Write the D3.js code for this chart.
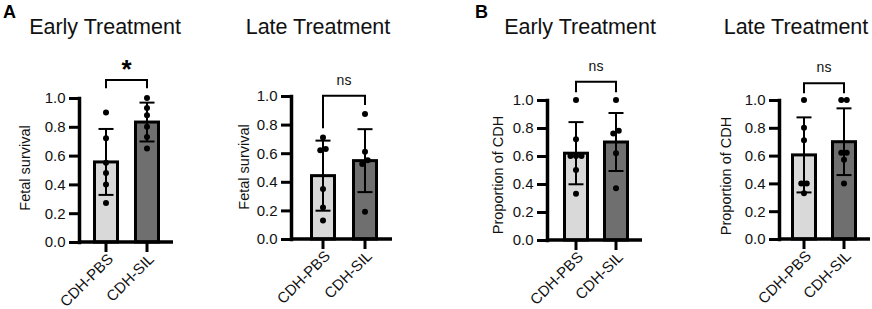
<!DOCTYPE html>
<html>
<head>
<meta charset="utf-8">
<script src="https://cdn.jsdelivr.net/npm/d3@7"></script>
<style>
  html, body { margin: 0; padding: 0; background: #fff; }
  svg { display: block; font-family: Arial, "Liberation Sans", Helvetica, sans-serif; }
</style>
</head>
<body>
<svg id="chart" width="872" height="309"></svg>
<script>
// ---------- DATA ----------
const categories = ["CDH-PBS", "CDH-SIL"];
const panelTitles = ["Early Treatment", "Late Treatment", "Early Treatment", "Late Treatment"];
const panelLetters = ["A", "", "B", ""];
const yLabels = ["Fetal survival", "Fetal survival", "Proportion of CDH", "Proportion of CDH"];
const yTicks = [0, 0.2, 0.4, 0.6, 0.8, 1.0];

// bar heights (mean) per panel: [CDH-PBS, CDH-SIL]
const means = [
  [0.556, 0.833],
  [0.443, 0.548],
  [0.620, 0.700],
  [0.605, 0.700]
];
// standard deviations
const sds = [
  [0.229, 0.135],
  [0.245, 0.220],
  [0.222, 0.207],
  [0.270, 0.240]
];
// individual points
const pointsPBS = [
  [0.90, 0.72, 0.55, 0.48, 0.40, 0.27],
  [0.71, 0.63, 0.62, 0.35, 0.22, 0.13],
  [1.00, 0.72, 0.60, 0.60, 0.60, 0.50, 0.33],
  [1.00, 0.80, 0.71, 0.40, 0.40, 0.33]
];
const pointsSIL = [
  [1.00, 0.93, 0.88, 0.80, 0.73, 0.65],
  [0.875, 0.61, 0.55, 0.525, 0.19],
  [1.00, 0.78, 0.76, 0.62, 0.37],
  [1.00, 1.00, 0.62, 0.62, 0.57, 0.40]
];
// significance annotations
const sigLabels = ["*", "ns", "ns", "ns"];
const bracketLevel = [1.125, 1.002, 1.13, 1.12];
const bracketLeftEnd = [1.067, 0.774, 1.055, 1.048];
const bracketRightEnd = [1.067, 0.937, 1.055, 1.048];

// ---------- LAYOUT (pixels) ----------
const layout = [
  {axisX: 79,  right: 173, y0: 242, y1: 98,  c1: 106, c2: 147, titleX: 105, labelX: 25,  labelY: 168, letterX: 3},
  {axisX: 291, right: 392, y0: 239, y1: 96,  c1: 323, c2: 365, titleX: 318, labelX: 244, labelY: 167},
  {axisX: 547, right: 642, y0: 240, y1: 100, c1: 576, c2: 616, titleX: 580, labelX: 498, labelY: 175, letterX: 475},
  {axisX: 779, right: 870, y0: 239, y1: 100, c1: 804, c2: 844, titleX: 796, labelX: 726, labelY: 176}
];
const fills = ["#d9d9d9", "#6f6f6f"];
const barW = 23, capW = 15, dotR = 3;
const FONT = "Arial, 'Liberation Sans', Helvetica, sans-serif";

const svg = d3.select("#chart");

layout.forEach((L, p) => {
  const g = svg.append("g");
  const y = d3.scaleLinear().domain([0, 1]).range([L.y0, L.y1]);
  const x = d3.scalePoint().domain(categories).range([L.c1, L.c2]);

  // letter
  if (panelLetters[p]) {
    g.append("text").attr("x", L.letterX).attr("y", 17.5)
      .attr("font-size", 18).attr("font-weight", "bold").text(panelLetters[p]);
  }
  // title
  g.append("text").attr("x", L.titleX).attr("y", 33.5).attr("text-anchor", "middle")
    .attr("font-size", 21.5).attr("fill", "#111").text(panelTitles[p]);

  // y label
  g.append("text").attr("transform", `translate(${L.labelX + 5},${L.labelY}) rotate(-90)`)
    .attr("text-anchor", "middle").attr("font-size", 14.5).attr("fill", "#111").text(yLabels[p]);

  // bars
  const vals = means[p];
  g.selectAll("rect.bar").data(categories).enter().append("rect")
    .attr("x", d => x(d) - barW / 2)
    .attr("y", (d, i) => y(vals[i]))
    .attr("width", barW)
    .attr("height", (d, i) => y(0) - y(vals[i]))
    .attr("fill", (d, i) => fills[i])
    .attr("stroke", "#000").attr("stroke-width", 3);

  // error bars
  categories.forEach((c, i) => {
    const m = vals[i], s = sds[p][i], cx = x(c);
    g.append("line").attr("x1", cx).attr("x2", cx).attr("y1", y(m + s)).attr("y2", y(m - s))
      .attr("stroke", "#000").attr("stroke-width", 2);
    [m + s, m - s].forEach(v => {
      g.append("line").attr("x1", cx - capW / 2).attr("x2", cx + capW / 2)
        .attr("y1", y(v)).attr("y2", y(v)).attr("stroke", "#000").attr("stroke-width", 2);
    });
  });

  // points with simple beeswarm spread of overlapping values
  [pointsPBS[p], pointsSIL[p]].forEach((pts, i) => {
    const cx = x(categories[i]);
    const sorted = pts.slice().sort((a, b) => a - b);
    const clusters = [];
    sorted.forEach(v => {
      const last = clusters[clusters.length - 1];
      if (last && Math.abs(y(last[last.length - 1]) - y(v)) < 2 * dotR) last.push(v);
      else clusters.push([v]);
    });
    const step = 5.5;
    clusters.forEach(cl => {
      cl.forEach((v, k) => {
        g.append("circle").attr("cx", cx + (k - (cl.length - 1) / 2) * step)
          .attr("cy", y(v)).attr("r", dotR).attr("fill", "#000");
      });
    });
  });

  // y axis
  const yAxis = d3.axisLeft(y).tickValues(yTicks).tickFormat(d3.format(".1f"))
    .tickSize(10).tickSizeOuter(0).tickPadding(3.5);
  const ya = g.append("g").attr("transform", `translate(${L.axisX},0)`).call(yAxis)
    .attr("font-size", 15).attr("font-family", FONT);
  ya.select(".domain").attr("stroke-width", 3.5).attr("stroke-linecap", "square");
  ya.selectAll(".tick line").attr("stroke-width", 3);
  ya.selectAll(".tick text").attr("fill", "#111");

  // x axis
  const xs = d3.scaleLinear().domain([0, 1]).range([L.axisX, L.right]);
  g.append("line").attr("x1", xs(0)).attr("x2", xs(1)).attr("y1", L.y0).attr("y2", L.y0)
    .attr("stroke", "#000").attr("stroke-width", 3.5);
  categories.forEach(c => {
    g.append("line").attr("x1", x(c)).attr("x2", x(c)).attr("y1", L.y0).attr("y2", L.y0 + 10)
      .attr("stroke", "#000").attr("stroke-width", 3);
    g.append("text").attr("transform", `translate(${x(c) + 8},${L.y0 + 18}) rotate(-45)`)
      .attr("text-anchor", "end").attr("font-size", 15).attr("fill", "#111").text(c);
  });

  // significance bracket
  const xa = x(categories[0]), xb = x(categories[1]);
  const yl = y(bracketLevel[p]);
  g.append("path")
    .attr("d", `M${xa},${y(bracketLeftEnd[p])}V${yl}H${xb}V${y(bracketRightEnd[p])}`)
    .attr("fill", "none").attr("stroke", "#000").attr("stroke-width", 2);
  if (sigLabels[p] === "*") {
    g.append("text").attr("x", (xa + xb) / 2).attr("y", yl - 2).attr("text-anchor", "middle")
      .attr("font-size", 26).attr("font-weight", "bold").text("*");
  } else {
    g.append("text").attr("x", (xa + xb) / 2).attr("y", yl - 11).attr("text-anchor", "middle")
      .attr("font-size", 14).attr("fill", "#111").text(sigLabels[p]);
  }
});
</script>
</body>
</html>
